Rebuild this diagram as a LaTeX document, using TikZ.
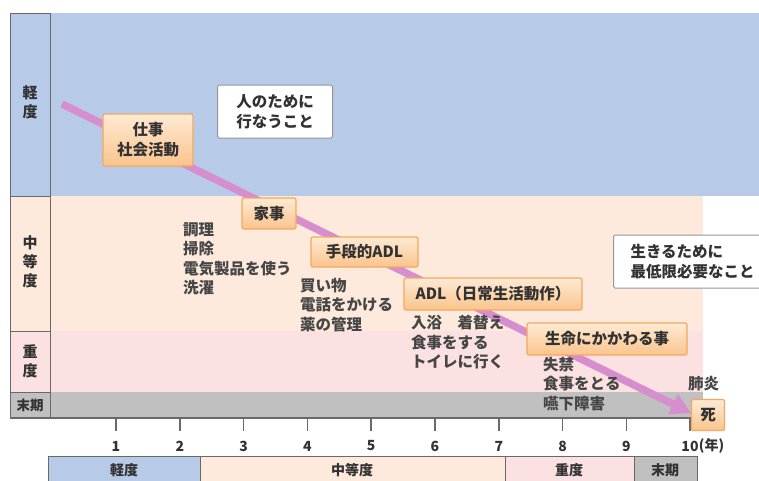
\documentclass[tikz,border=0pt]{standalone}
\usepackage{fontspec}
\setmainfont{Noto Sans CJK JP}
\usetikzlibrary{arrows.meta}
\definecolor{bandblue}{RGB}{183,203,232}
\definecolor{bandbeige}{RGB}{253,234,221}
\definecolor{bandpink}{RGB}{251,225,225}
\definecolor{bandgray}{RGB}{192,192,192}
\definecolor{framegray}{RGB}{105,105,105}
\definecolor{boxedge}{RGB}{244,168,95}
\definecolor{boxlight}{RGB}{254,234,212}
\definecolor{boxdark}{RGB}{250,196,140}
\definecolor{arrowpink}{RGB}{214,142,206}
\definecolor{txt}{RGB}{50,50,50}
\tikzset{
  orangebox/.style={draw=boxedge, line width=1.2pt, rounded corners=2pt,
    top color=boxlight, bottom color=boxdark, text=txt, inner sep=0pt,
    align=center, font=\bfseries\fontsize{15.5}{20}\selectfont},
  whitebox/.style={draw=framegray!70, line width=1pt, rounded corners=1.5pt,
    fill=white, text=txt, inner sep=0pt, align=left,
    font=\bfseries\fontsize{15.5}{20}\selectfont},
  plaintext/.style={text=txt!90, inner sep=0pt, anchor=north west, align=left,
    font=\bfseries\fontsize{15.5}{19.5}\selectfont},
  sidelabel/.style={text=txt, inner sep=0pt, align=center,
    font=\bfseries\fontsize{15}{19}\selectfont},
  cell/.style={draw=framegray, line width=0.8pt},
  ticklabel/.style={text=txt, inner sep=0pt, font=\bfseries\fontsize{14}{16}\selectfont},
  barlabel/.style={text=txt, inner sep=0pt, font=\bfseries\fontsize{14}{16}\selectfont}
}
\begin{document}
\begin{tikzpicture}[x=1pt,y=-1pt]
\useasboundingbox (0,0) rectangle (759,480);
% bands
\fill[bandblue] (10,13) rectangle (759,196);
\fill[bandbeige] (10,196) rectangle (703,331);
\fill[bandpink] (10,331) rectangle (703,392);
\fill[bandgray] (10,392) rectangle (703,418);
% left label column
\draw[cell] (10,13) rectangle (50,196);
\draw[cell] (10,196) rectangle (50,331);
\draw[cell] (10,331) rectangle (50,392);
\draw[cell] (10,392) rectangle (50,418);
\node[sidelabel] (lmild) at (30,102) {軽\\度};
\node[sidelabel] (lmod) at (30,262) {中\\等\\度};
\node[sidelabel] (lsev) at (30,361) {重\\度};
\node[sidelabel, font=\bfseries\fontsize{13.5}{15}\selectfont] (lterm) at (30,405) {末期};
% axis
\draw[framegray, line width=2pt] (10,418) -- (692,418);
\foreach \i in {1,...,10} {
  \draw[framegray, line width=1.5pt] ({52.2+63.8*\i},418) -- ({52.2+63.8*\i},431);
}
\foreach \i in {1,...,9} {
  \node[ticklabel] (n\i) at ({52.2+63.8*\i},446) {\i};
}
\node[ticklabel] (n10) at (690,446) {10};
\node[ticklabel, anchor=west] (year) at (n10.east) {(年)};
% bottom bar
\draw[cell, fill=bandblue] (48,456) rectangle (200,484);
\draw[cell, fill=bandbeige] (200,456) rectangle (505,484);
\draw[cell, fill=bandpink] (505,456) rectangle (634,484);
\draw[cell, fill=bandgray] (634,456) rectangle (697,484);
\node[barlabel] (bmild) at (124,470) {軽度};
\node[barlabel] (bmod) at (352,470) {中等度};
\node[barlabel] (bsev) at (569,470) {重度};
\node[barlabel] (bterm) at (665,470) {末期};
% trend arrow
\coordinate (astart) at (62,104);
\coordinate (aend) at (691,413);
\draw[arrowpink, line width=7.5pt, -{Triangle[width=21pt,length=20pt]}] (astart) -- (aend);
% plain lists
\node[plaintext] (housework) at (183,222) {調理\\掃除\\電気製品を使う\\洗濯};
\node[plaintext] (iadl) at (300,278) {買い物\\電話をかける\\薬の管理};
\node[plaintext] (adl) at (411,315) {入浴\hspace{1em}着替え\\食事をする\\トイレに行く};
\node[plaintext] (life) at (543,357) {失禁\\食事をとる\\嚥下障害};
\node[plaintext] (pneu) at (688,376) {肺炎};
% boxes
\node[orangebox, minimum width=90pt, minimum height=52pt] (work) at (148,140) {仕事\\社会活動};
\node[whitebox, minimum width=115pt, minimum height=53pt] (forothers) at (275,111.5) {人のために\\行なうこと};
\node[orangebox, minimum width=54pt, minimum height=31pt] (house) at (269,213.5) {家事};
\node[orangebox, minimum width=107pt, minimum height=30pt] (iadlbox) at (364.5,252) {手段的ADL};
\node[orangebox, minimum width=178pt, minimum height=32pt] (adlbox) at (493,294) {ADL（日常生活動作）};
\node[orangebox, minimum width=160pt, minimum height=32pt] (lifebox) at (607,339) {生命にかかわる事};
\node[orangebox, minimum width=33pt, minimum height=31pt] (death) at (708,415) {死};
\node[whitebox, minimum width=150pt, minimum height=53pt, anchor=west] (tolive) at (613,261.5) {\hspace{8pt}生きるために\\\hspace{8pt}最低限必要なこと};
\end{tikzpicture}
\end{document}
